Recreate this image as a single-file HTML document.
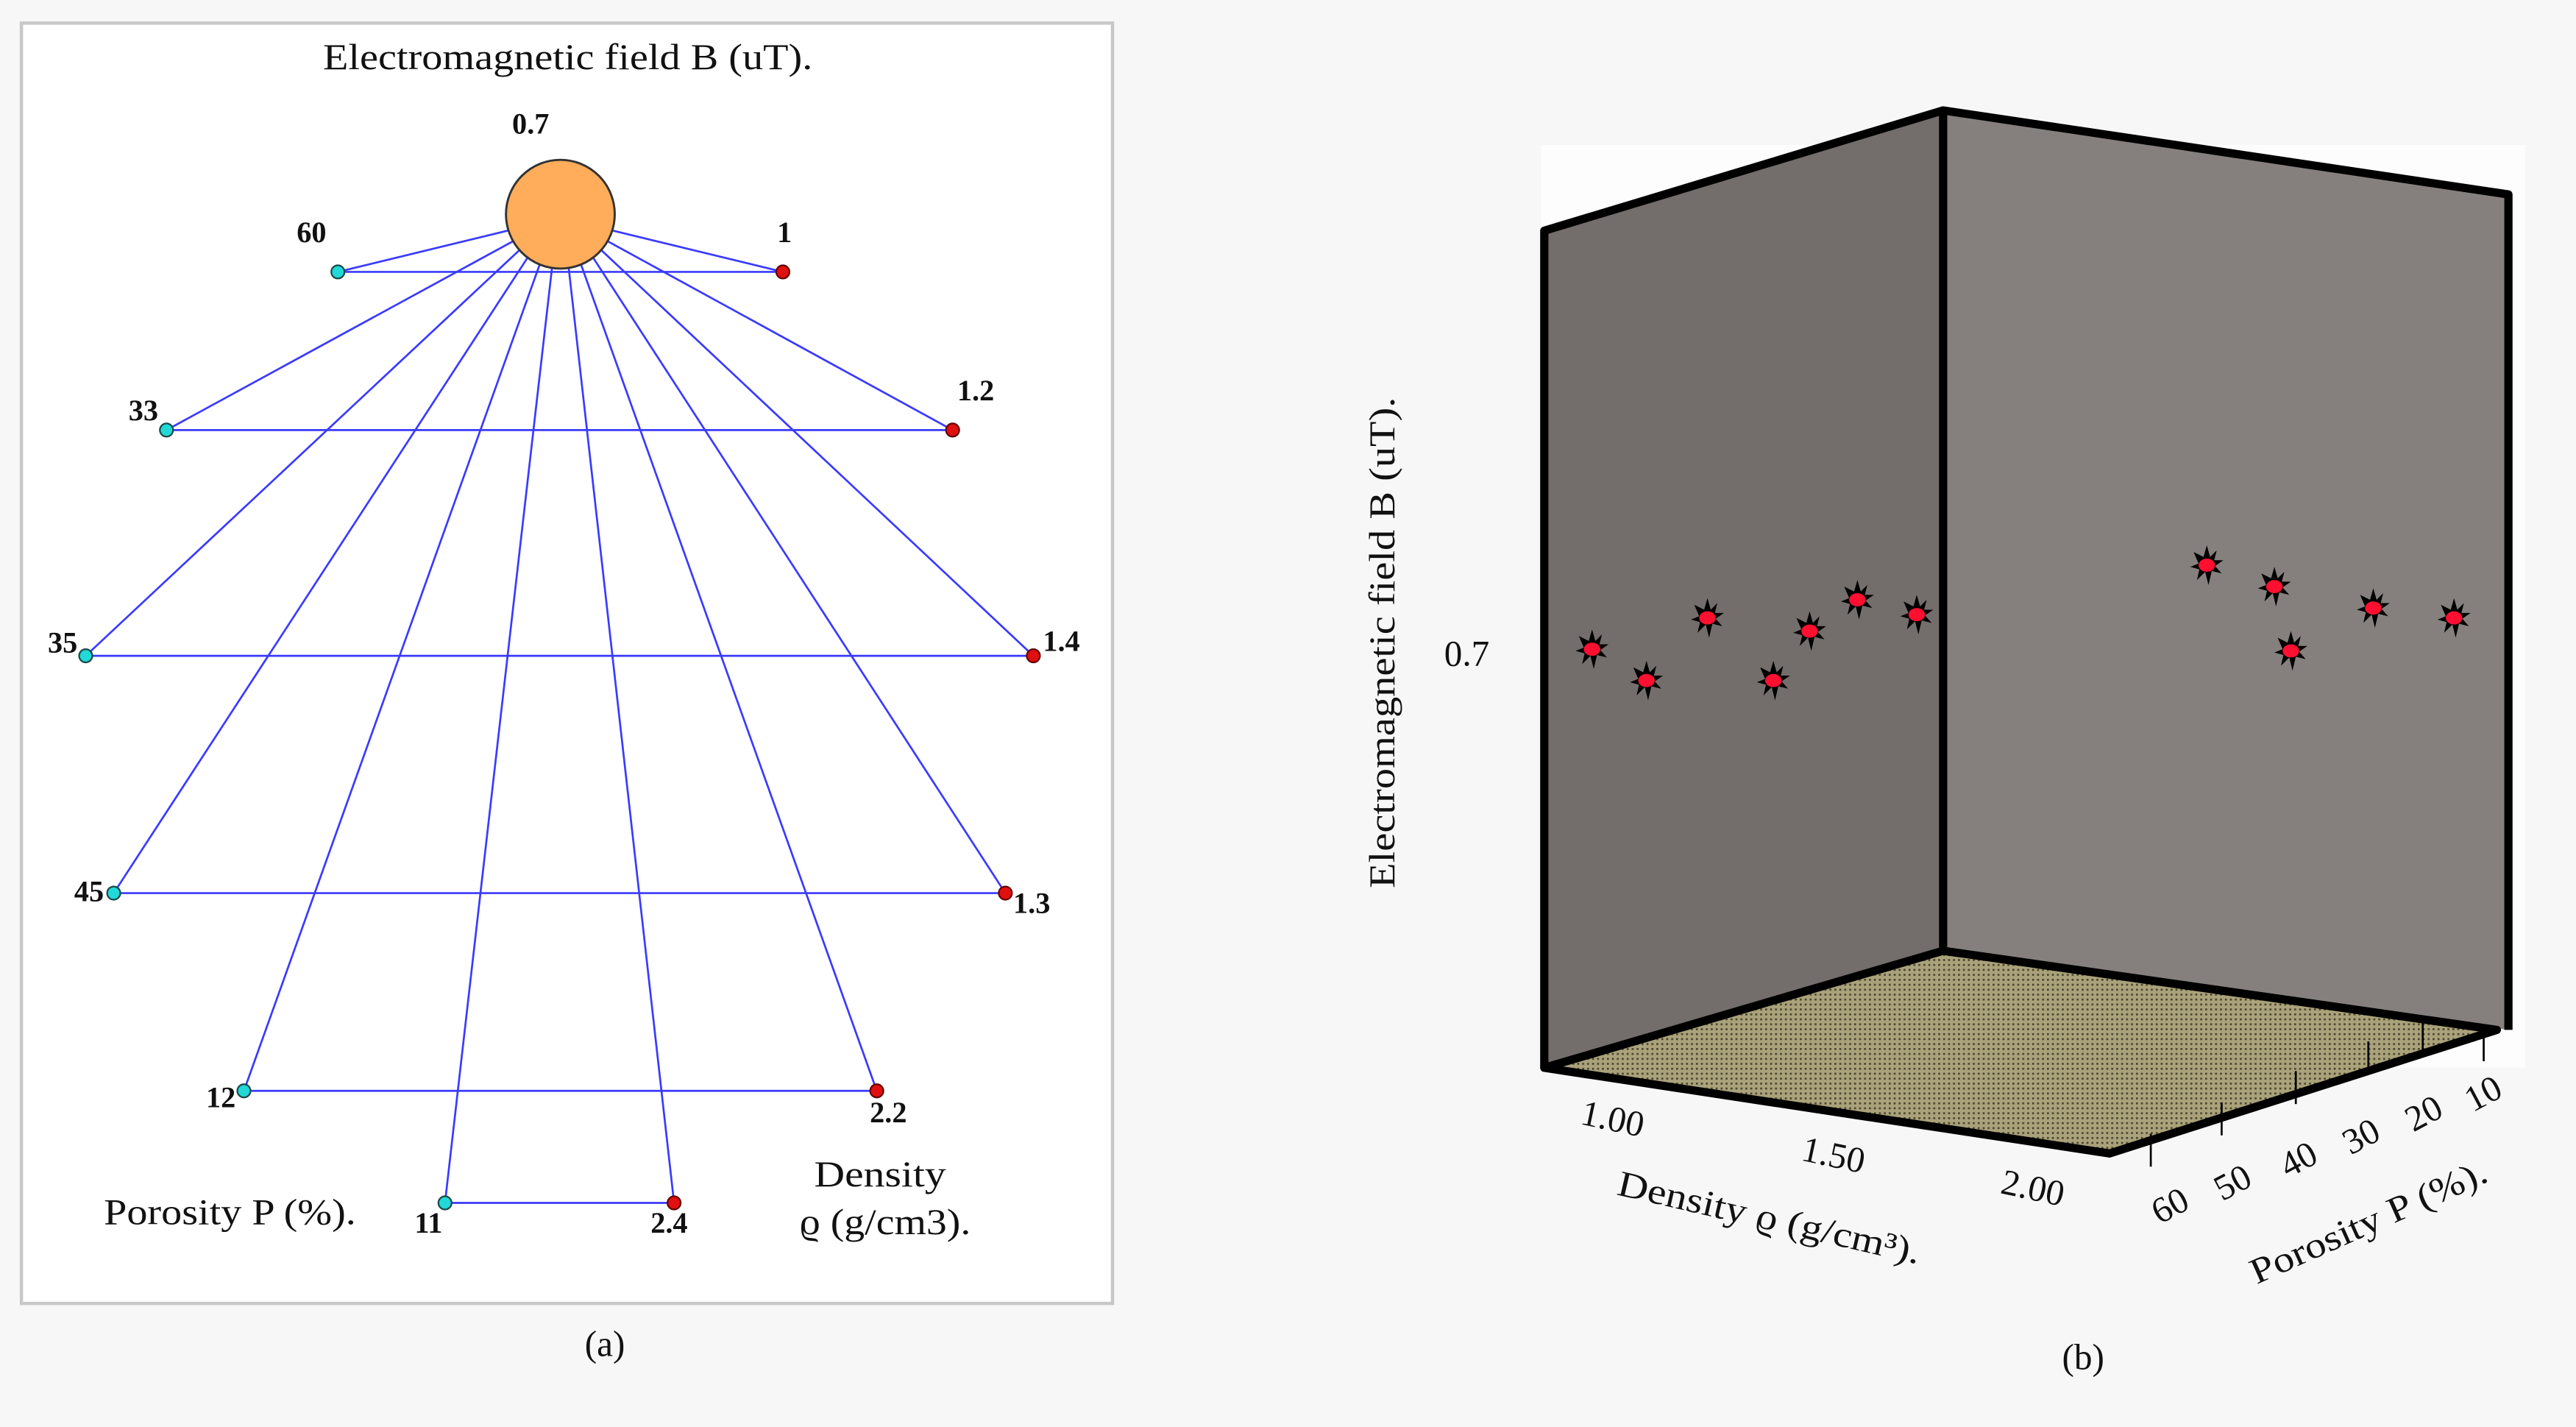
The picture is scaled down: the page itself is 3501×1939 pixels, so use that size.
<!DOCTYPE html>
<html><head><meta charset="utf-8"><style>
html,body{margin:0;padding:0;background:#f7f7f7;}
svg{display:block;}
text{font-family:"Liberation Serif","DejaVu Serif",serif;fill:#111;}
.b{font-weight:bold;font-size:18px;}
.t{font-size:22px;}
</style></head><body>
<svg width="3501" height="1939" viewBox="0 0 1563 866" preserveAspectRatio="none" xmlns="http://www.w3.org/2000/svg">
<defs>
<pattern id="dots" width="3" height="3" patternUnits="userSpaceOnUse">
<rect width="3" height="3" fill="#aaa27a"/><rect width="1.2" height="1.2" fill="#4a4630"/>
</pattern>
<g id="star">
<polygon points="0,-12 2,-5 6,-9 4.5,-3 10,-3 5,0.5 9,5 3,3.5 1,12 -1,4 -6,9 -4.5,2.5 -10,1 -5,-1 -8,-8 -2,-5" fill="#000"/>
<ellipse cx="0" cy="0" rx="5" ry="4" fill="#ff1030"/>
</g>
</defs>
<rect width="1563" height="866" fill="#f7f7f7"/>
<rect x="13" y="14" width="662" height="777" fill="#fff" stroke="#c8c8c8" stroke-width="2"/>
<text class="t" x="196" y="42" textLength="297" lengthAdjust="spacingAndGlyphs">Electromagnetic field B (uT).</text>
<text class="b" x="322" y="81" text-anchor="middle">0.7</text>
<g stroke="#3a3aff" stroke-width="1.2">
<line x1="205" y1="165" x2="475" y2="165"/>
<line x1="101" y1="261" x2="578" y2="261"/>
<line x1="52" y1="398" x2="627" y2="398"/>
<line x1="69" y1="542" x2="610" y2="542"/>
<line x1="148" y1="662" x2="532" y2="662"/>
<line x1="270" y1="730" x2="409" y2="730"/>
<line x1="308" y1="140" x2="205" y2="165"/>
<line x1="312" y1="146" x2="101" y2="261"/>
<line x1="316" y1="151" x2="52" y2="398"/>
<line x1="321" y1="155" x2="69" y2="542"/>
<line x1="328" y1="159" x2="148" y2="662"/>
<line x1="335" y1="162" x2="270" y2="730"/>
<line x1="372" y1="140" x2="475" y2="165"/>
<line x1="368" y1="146" x2="578" y2="261"/>
<line x1="364" y1="151" x2="627" y2="398"/>
<line x1="359" y1="155" x2="610" y2="542"/>
<line x1="352" y1="159" x2="532" y2="662"/>
<line x1="345" y1="162" x2="409" y2="730"/>
</g>
<circle cx="340" cy="130" r="33" fill="#ffad5a" stroke="#333" stroke-width="1.3"/>
<g fill="#22d8d8" stroke="#1a4a4a" stroke-width="1">
<circle cx="205" cy="165" r="4"/><circle cx="101" cy="261" r="4"/><circle cx="52" cy="398" r="4"/>
<circle cx="69" cy="542" r="4"/><circle cx="148" cy="662" r="4"/><circle cx="270" cy="730" r="4"/>
</g>
<g fill="#e01010" stroke="#600" stroke-width="1">
<circle cx="475" cy="165" r="4"/><circle cx="578" cy="261" r="4"/><circle cx="627" cy="398" r="4"/>
<circle cx="610" cy="542" r="4"/><circle cx="532" cy="662" r="4"/><circle cx="409" cy="730" r="4"/>
</g>
<text class="b" x="189" y="147" text-anchor="middle">60</text>
<text class="b" x="476" y="147" text-anchor="middle">1</text>
<text class="b" x="87" y="255" text-anchor="middle">33</text>
<text class="b" x="592" y="243" text-anchor="middle">1.2</text>
<text class="b" x="38" y="396" text-anchor="middle">35</text>
<text class="b" x="644" y="395" text-anchor="middle">1.4</text>
<text class="b" x="54" y="547" text-anchor="middle">45</text>
<text class="b" x="626" y="554" text-anchor="middle">1.3</text>
<text class="b" x="134" y="672" text-anchor="middle">12</text>
<text class="b" x="539" y="681" text-anchor="middle">2.2</text>
<text class="b" x="260" y="748" text-anchor="middle">11</text>
<text class="b" x="406" y="748" text-anchor="middle">2.4</text>
<text class="t" x="63" y="743" textLength="153" lengthAdjust="spacingAndGlyphs">Porosity P (%).</text>
<text class="t" x="494" y="720" textLength="80" lengthAdjust="spacingAndGlyphs">Density</text>
<text class="t" x="485" y="749" textLength="104" lengthAdjust="spacingAndGlyphs">ϱ (g/cm3).</text>
<text class="t" x="367" y="823" text-anchor="middle">(a)</text>
<rect x="935" y="88" width="597" height="560" fill="#fdfdfd"/>
<polygon points="937,140 1179,67 1179,577 937,648" fill="#736e6c"/>
<polygon points="1179,67 1522,118 1522,625 1179,577" fill="#85807e"/>
<polygon points="937,648 1179,577 1515,625 1280,700" fill="url(#dots)"/>
<g fill="none" stroke="#000" stroke-width="5" stroke-linejoin="round">
<polyline points="937,648 937,140 1179,67 1522,118 1522,625"/>
<line x1="1179" y1="67" x2="1179" y2="577"/>
<polygon points="937,648 1179,577 1515,625 1280,700"/>
</g>
<g stroke="#000" stroke-width="1.2">
<line x1="1305" y1="688" x2="1305" y2="708"/>
<line x1="1348" y1="669" x2="1348" y2="689"/>
<line x1="1393" y1="650" x2="1393" y2="670"/>
<line x1="1437" y1="632" x2="1437" y2="652"/>
<line x1="1470" y1="620" x2="1470" y2="640"/>
<line x1="1507" y1="624" x2="1507" y2="644"/>
</g>
<text class="t" transform="translate(846,390) rotate(-90)" text-anchor="middle" textLength="298" lengthAdjust="spacingAndGlyphs">Electromagnetic field B (uT).</text>
<text class="t" x="890" y="404" text-anchor="middle">0.7</text>
<text class="t" transform="translate(977,686) rotate(12)" text-anchor="middle">1.00</text>
<text class="t" transform="translate(1111,708) rotate(12)" text-anchor="middle">1.50</text>
<text class="t" transform="translate(1232,728) rotate(12)" text-anchor="middle">2.00</text>
<text class="t" transform="translate(1072,746) rotate(13)" text-anchor="middle" textLength="188" lengthAdjust="spacingAndGlyphs">Density ϱ (g/cm³).</text>
<text class="t" transform="translate(1320,738) rotate(-28)" text-anchor="middle">60</text>
<text class="t" transform="translate(1358,724) rotate(-28)" text-anchor="middle">50</text>
<text class="t" transform="translate(1398,710) rotate(-28)" text-anchor="middle">40</text>
<text class="t" transform="translate(1436,696) rotate(-28)" text-anchor="middle">30</text>
<text class="t" transform="translate(1474,682) rotate(-28)" text-anchor="middle">20</text>
<text class="t" transform="translate(1510,670) rotate(-28)" text-anchor="middle">10</text>
<text class="t" transform="translate(1440,748) rotate(-24)" text-anchor="middle" textLength="155" lengthAdjust="spacingAndGlyphs">Porosity P (%).</text>
<use href="#star" x="966" y="394"/>
<use href="#star" x="999" y="413"/>
<use href="#star" x="1036" y="375"/>
<use href="#star" x="1076" y="413"/>
<use href="#star" x="1098" y="383"/>
<use href="#star" x="1127" y="364"/>
<use href="#star" x="1163" y="373"/>
<use href="#star" x="1339" y="343"/>
<use href="#star" x="1380" y="356"/>
<use href="#star" x="1390" y="395"/>
<use href="#star" x="1440" y="369"/>
<use href="#star" x="1489" y="375"/>
<text class="t" x="1264" y="831" text-anchor="middle">(b)</text>
</svg>
</body></html>
